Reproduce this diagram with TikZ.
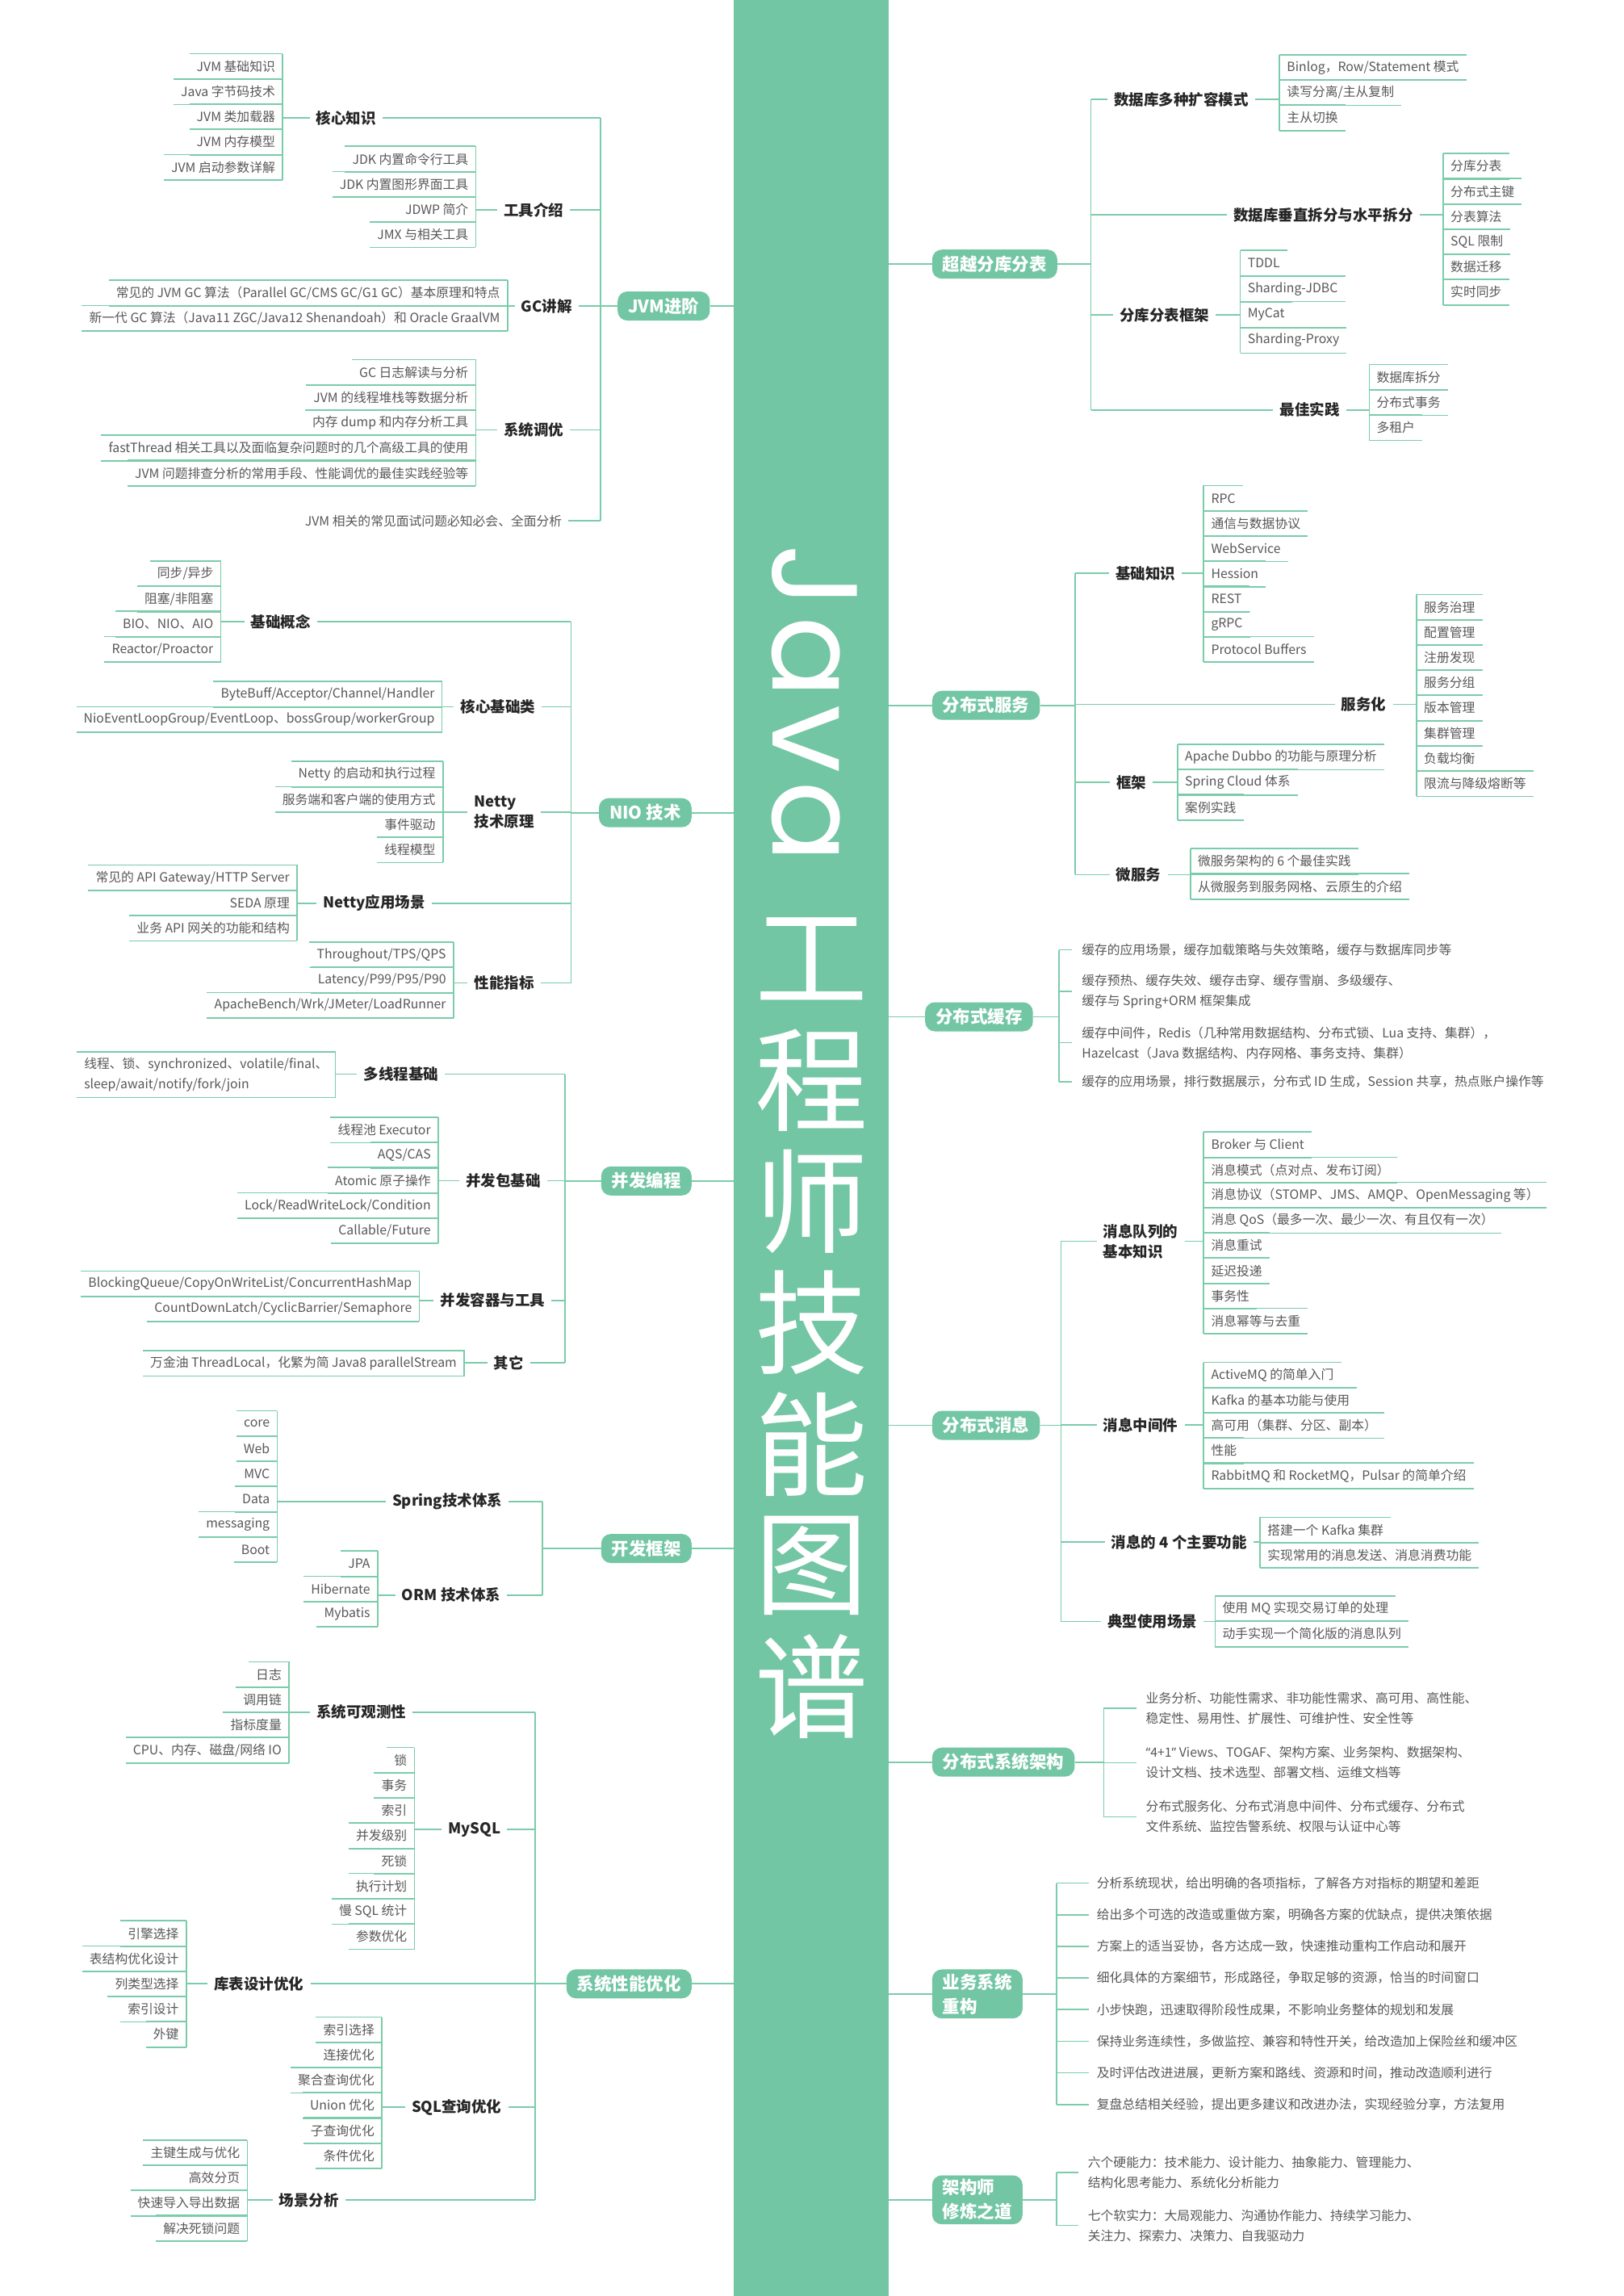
\documentclass[tikz,border=0pt]{standalone}
\usepackage{fontspec}
\setmainfont{Noto Sans CJK SC}
\newfontfamily\latinfont{Poppins}
\newfontfamily\quotefont{Noto Sans}
\usetikzlibrary{positioning}
\definecolor{mint}{RGB}{114,198,164}
\definecolor{mintline}{RGB}{122,204,170}
\definecolor{leafgray}{RGB}{88,88,88}
\definecolor{headgray}{RGB}{38,38,38}
\newcommand{\leafsize}{\fontsize{15.8}{25}\selectfont}
\newcommand{\headsize}{\fontsize{18.5}{25}\selectfont\bfseries}
\newcommand{\topicsize}{\fontsize{21.5}{30}\selectfont\bfseries}

\begin{document}
\begin{tikzpicture}[
    x=1.8136pt, y=-1.8136pt,
    link/.style={draw=mintline, line width=1.7pt},
    leafline/.style={draw=mintline, line width=1.7pt},
    topic/.style={fill=mint, rounded corners=12pt, text=white, font=\topicsize, inner xsep=13pt, inner ysep=0pt, minimum height=36pt, align=left},
    head/.style={font=\headsize, text=headgray, inner xsep=8pt, inner ysep=2pt, align=left},
    leafL/.style={font=\leafsize, text=leafgray, inner xsep=9pt, inner ysep=0pt, minimum height=31.2pt, anchor=north east},
    leafR/.style={leafL, anchor=north west},
    itemtext/.style={font=\leafsize, text=leafgray, inner xsep=12pt, inner ysep=0pt, anchor=west, align=left},
    titlechar/.style={font=\fontsize{140}{140}\selectfont, text=white, inner sep=0pt}
]
\useasboundingbox (0,0) rectangle (1109,1568);
\fill[white] (0,0) rectangle (1109,1568);

% central bar and title
\node[fill=mint, minimum width=192.2pt, minimum height=2844pt, inner sep=0pt] (bar) at (554,784) {};
\node[rotate=-90, anchor=base west, text=white, inner sep=0pt, font=\latinfont\fontsize{150}{150}\selectfont\addfontfeature{LetterSpace=6}] (ttljava) at (528,372) {Java};
\foreach \c [count=\i] in {工,程,师,技,能,图,谱}
    \node[titlechar] (ttl-\i) at (554.5,{655+82.8*(\i-1)}) {\c};

% ---------------- left side ----------------
% JVM进阶
\node[topic, anchor=east] (jvm) at (485,209) {JVM进阶};
\coordinate (jvmspine) at (410,209);
\draw[link] (jvm.east) -- (jvm.east -| bar.west);
\draw[link] (jvmspine) -- (jvm.west);
\node[head] (jvmA) at (236.5,80.5) {核心知识};
\node[head] (jvmB) at (364.5,143.5) {工具介绍};
\node[head] (jvmC) at (373.5,209) {GC讲解};
\node[head] (jvmD) at (364.5,293.5) {系统调优};
\node[leafL, anchor=east, inner xsep=8pt] (jvmE) at (388.4,355.7) {JVM 相关的常见面试问题必知必会、全面分析};
\foreach \n in {jvmA,jvmB,jvmC,jvmD,jvmE}
    \draw[link] (\n.east) -- (\n.east -| jvmspine);
\draw[link] (jvmA.east -| jvmspine) -- (jvmE.east -| jvmspine);

\foreach \lbl [count=\i] in {JVM 基础知识, Java 字节码技术, JVM 类加载器, JVM 内存模型, JVM 启动参数详解}{
    \node[leafL] (jvmA-\i) at (193,{36.7+17.2*(\i-1)}) {\lbl};
    \draw[leafline] (jvmA-\i.north west) -- (jvmA-\i.north east) (jvmA-\i.south west) -- (jvmA-\i.south east);
}
\draw[leafline] (jvmA-1.north east) -- (jvmA-5.south east);
\draw[link] (jvmA-1.east |- jvmA.west) -- (jvmA.west);

\foreach \lbl [count=\i] in {JDK 内置命令行工具, JDK 内置图形界面工具, JDWP 简介, JMX 与相关工具}{
    \node[leafL] (jvmB-\i) at (325,{99.9+17.2*(\i-1)}) {\lbl};
    \draw[leafline] (jvmB-\i.north west) -- (jvmB-\i.north east) (jvmB-\i.south west) -- (jvmB-\i.south east);
}
\draw[leafline] (jvmB-1.north east) -- (jvmB-4.south east);
\draw[link] (jvmB-1.east |- jvmB.west) -- (jvmB.west);

\foreach \lbl [count=\i] in {常见的 JVM GC 算法（Parallel GC/CMS GC/G1 GC）基本原理和特点, 新一代 GC 算法（Java11 ZGC/Java12 Shenandoah）和 Oracle GraalVM}{
    \node[leafL] (jvmC-\i) at (346.6,{191.5+17.2*(\i-1)}) {\lbl};
    \draw[leafline] (jvmC-\i.north west) -- (jvmC-\i.north east) (jvmC-\i.south west) -- (jvmC-\i.south east);
}
\draw[leafline] (jvmC-1.north east) -- (jvmC-2.south east);
\draw[link] (jvmC-1.east |- jvmC.west) -- (jvmC.west);

\foreach \lbl [count=\i] in {GC 日志解读与分析, JVM 的线程堆栈等数据分析, 内存 dump 和内存分析工具, fastThread 相关工具以及面临复杂问题时的几个高级工具的使用, JVM 问题排查分析的常用手段、性能调优的最佳实践经验等}{
    \node[leafL] (jvmD-\i) at (325,{245.6+17.2*(\i-1)}) {\lbl};
    \draw[leafline] (jvmD-\i.north west) -- (jvmD-\i.north east) (jvmD-\i.south west) -- (jvmD-\i.south east);
}
\draw[leafline] (jvmD-1.north east) -- (jvmD-5.south east);
\draw[link] (jvmD-1.east |- jvmD.west) -- (jvmD.west);

% NIO 技术
\node[topic, anchor=east] (nio) at (472.5,555) {NIO 技术};
\coordinate (niospine) at (390,555);
\draw[link] (nio.east) -- (nio.east -| bar.west);
\draw[link] (niospine) -- (nio.west);
\node[head] (nioA) at (191.8,424.5) {基础概念};
\node[head] (nioB) at (340.1,482.7) {核心基础类};
\node[head] (nioC) at (344.4,554.7) {Netty\\技术原理};
\node[head] (nioD) at (255.5,616.8) {Netty应用场景};
\node[head] (nioE) at (344.4,671.3) {性能指标};
\foreach \n in {nioA,nioB,nioC,nioD,nioE}
    \draw[link] (\n.east) -- (\n.east -| niospine);
\draw[link] (nioA.east -| niospine) -- (nioE.east -| niospine);

\foreach \lbl [count=\i] in {同步/异步, 阻塞/非阻塞, BIO、NIO、AIO, Reactor/Proactor}{
    \node[leafL] (nioA-\i) at (150.8,{383.1+17.2*(\i-1)}) {\lbl};
    \draw[leafline] (nioA-\i.north west) -- (nioA-\i.north east) (nioA-\i.south west) -- (nioA-\i.south east);
}
\draw[leafline] (nioA-1.north east) -- (nioA-4.south east);
\draw[link] (nioA-1.east |- nioA.west) -- (nioA.west);

\foreach \lbl [count=\i] in {ByteBuff/Acceptor/Channel/Handler, NioEventLoopGroup/EventLoop、bossGroup/workerGroup}{
    \node[leafL] (nioB-\i) at (301.9,{465.5+17.2*(\i-1)}) {\lbl};
    \draw[leafline] (nioB-\i.north west) -- (nioB-\i.north east) (nioB-\i.south west) -- (nioB-\i.south east);
}
\draw[leafline] (nioB-1.north east) -- (nioB-2.south east);
\draw[link] (nioB-1.east |- nioB.west) -- (nioB.west);

\foreach \lbl [count=\i] in {Netty 的启动和执行过程, 服务端和客户端的使用方式, 事件驱动, 线程模型}{
    \node[leafL] (nioC-\i) at (302.5,{520+17.2*(\i-1)}) {\lbl};
    \draw[leafline] (nioC-\i.north west) -- (nioC-\i.north east) (nioC-\i.south west) -- (nioC-\i.south east);
}
\draw[leafline] (nioC-1.north east) -- (nioC-4.south east);
\draw[link] (nioC-1.east |- nioC.west) -- (nioC.west);

\foreach \lbl [count=\i] in {常见的 API Gateway/HTTP Server, SEDA 原理, 业务 API 网关的功能和结构}{
    \node[leafL] (nioD-\i) at (202.9,{590.7+17.2*(\i-1)}) {\lbl};
    \draw[leafline] (nioD-\i.north west) -- (nioD-\i.north east) (nioD-\i.south west) -- (nioD-\i.south east);
}
\draw[leafline] (nioD-1.north east) -- (nioD-3.south east);
\draw[link] (nioD-1.east |- nioD.west) -- (nioD.west);

\foreach \lbl [count=\i] in {Throughout/TPS/QPS, Latency/P99/P95/P90, ApacheBench/Wrk/JMeter/LoadRunner}{
    \node[leafL] (nioE-\i) at (309.7,{643.4+17.2*(\i-1)}) {\lbl};
    \draw[leafline] (nioE-\i.north west) -- (nioE-\i.north east) (nioE-\i.south west) -- (nioE-\i.south east);
}
\draw[leafline] (nioE-1.north east) -- (nioE-3.south east);
\draw[link] (nioE-1.east |- nioE.west) -- (nioE.west);

% 并发编程
\node[topic, anchor=east] (conc) at (472.5,806.5) {并发编程};
\coordinate (concspine) at (386,806.5);
\draw[link] (conc.east) -- (conc.east -| bar.west);
\draw[link] (concspine) -- (conc.west);
\node[head] (conA) at (273.9,733.6) {多线程基础};
\node[head] (conB) at (343.8,806.3) {并发包基础};
\node[head] (conC) at (336.5,888) {并发容器与工具};
\node[head] (conD) at (347.5,930.6) {其它};
\foreach \n in {conA,conB,conC,conD}
    \draw[link] (\n.east) -- (\n.east -| concspine);
\draw[link] (conA.east -| concspine) -- (conD.east -| concspine);

\node[leafL, align=left, minimum height=55.9pt] (conA-1) at (229.1,718.5) {线程、锁、synchronized、volatile/final、\\sleep/await/notify/fork/join};
\draw[leafline] (conA-1.north west) -- (conA-1.north east) -- (conA-1.south east) -- (conA-1.south west);
\draw[link] (conA-1.east |- conA.west) -- (conA.west);

\foreach \lbl [count=\i] in {线程池 Executor, AQS/CAS, Atomic 原子操作, Lock/ReadWriteLock/Condition, Callable/Future}{
    \node[leafL] (conB-\i) at (299.3,{763+17.2*(\i-1)}) {\lbl};
    \draw[leafline] (conB-\i.north west) -- (conB-\i.north east) (conB-\i.south west) -- (conB-\i.south east);
}
\draw[leafline] (conB-1.north east) -- (conB-5.south east);
\draw[link] (conB-1.east |- conB.west) -- (conB.west);

\foreach \lbl [count=\i] in {BlockingQueue/CopyOnWriteList/ConcurrentHashMap, CountDownLatch/CyclicBarrier/Semaphore}{
    \node[leafL] (conC-\i) at (286.4,{868+17.2*(\i-1)}) {\lbl};
    \draw[leafline] (conC-\i.north west) -- (conC-\i.north east) (conC-\i.south west) -- (conC-\i.south east);
}
\draw[leafline] (conC-1.north east) -- (conC-2.south east);
\draw[link] (conC-1.east |- conC.west) -- (conC.west);

\node[leafL] (conD-1) at (317,922.3) {万金油 ThreadLocal，化繁为简 Java8 parallelStream};
\draw[leafline] (conD-1.north west) -- (conD-1.north east) -- (conD-1.south east) -- (conD-1.south west);
\draw[link] (conD-1.east |- conD.west) -- (conD.west);

% 开发框架
\node[topic, anchor=east] (frame) at (472.5,1057.5) {开发框架};
\coordinate (framespine) at (370.5,1057.5);
\draw[link] (frame.east) -- (frame.east -| bar.west);
\draw[link] (framespine) -- (frame.west);
\node[head] (fwA) at (305.5,1025.3) {Spring技术体系};
\node[head] (fwB) at (308.2,1089.3) {ORM 技术体系};
\foreach \n in {fwA,fwB}
    \draw[link] (\n.east) -- (\n.east -| framespine);
\draw[link] (fwA.east -| framespine) -- (fwB.east -| framespine);

\foreach \lbl [count=\i] in {core, Web, MVC, Data, messaging, Boot}{
    \node[leafL] (fwA-\i) at (189.3,{963.5+17.2*(\i-1)}) {\lbl};
    \draw[leafline] (fwA-\i.north west) -- (fwA-\i.north east) (fwA-\i.south west) -- (fwA-\i.south east);
}
\draw[leafline] (fwA-1.north east) -- (fwA-6.south east);
\draw[link] (fwA-1.east |- fwA.west) -- (fwA.west);

\foreach \lbl [count=\i] in {JPA, Hibernate, Mybatis}{
    \node[leafL] (fwB-\i) at (257.9,{1059.2+17.2*(\i-1)}) {\lbl};
    \draw[leafline] (fwB-\i.north west) -- (fwB-\i.north east) (fwB-\i.south west) -- (fwB-\i.south east);
}
\draw[leafline] (fwB-1.north east) -- (fwB-3.south east);
\draw[link] (fwB-1.east |- fwB.west) -- (fwB.west);

% 系统性能优化
\node[topic, anchor=east] (perf) at (472.5,1354.8) {系统性能优化};
\coordinate (perfspine) at (365.6,1354.8);
\draw[link] (perf.east) -- (perf.east -| bar.west);
\draw[link] (perfspine) -- (perf.west);
\node[head] (pfA) at (246.8,1169.3) {系统可观测性};
\node[head] (pfB) at (324,1249.4) {MySQL};
\node[head] (pfC) at (176.9,1354.8) {库表设计优化};
\node[head] (pfD) at (311.9,1439.1) {SQL查询优化};
\node[head] (pfE) at (211.1,1502.5) {场景分析};
\foreach \n in {pfA,pfB,pfC,pfD,pfE}
    \draw[link] (\n.east) -- (\n.east -| perfspine);
\draw[link] (pfA.east -| perfspine) -- (pfE.east -| perfspine);

\foreach \lbl [count=\i] in {日志, 调用链, 指标度量, CPU、内存、磁盘/网络 IO}{
    \node[leafL] (pfA-\i) at (197.4,{1134.9+17.2*(\i-1)}) {\lbl};
    \draw[leafline] (pfA-\i.north west) -- (pfA-\i.north east) (pfA-\i.south west) -- (pfA-\i.south east);
}
\draw[leafline] (pfA-1.north east) -- (pfA-4.south east);
\draw[link] (pfA-1.east |- pfA.west) -- (pfA.west);

\foreach \lbl [count=\i] in {锁, 事务, 索引, 并发级别, 死锁, 执行计划, 慢 SQL 统计, 参数优化}{
    \node[leafL] (pfB-\i) at (283.1,{1193.4+17.2*(\i-1)}) {\lbl};
    \draw[leafline] (pfB-\i.north west) -- (pfB-\i.north east) (pfB-\i.south west) -- (pfB-\i.south east);
}
\draw[leafline] (pfB-1.north east) -- (pfB-8.south east);
\draw[link] (pfB-1.east |- pfB.west) -- (pfB.west);

\foreach \lbl [count=\i] in {引擎选择, 表结构优化设计, 列类型选择, 索引设计, 外键}{
    \node[leafL] (pfC-\i) at (127.2,{1311.8+17.2*(\i-1)}) {\lbl};
    \draw[leafline] (pfC-\i.north west) -- (pfC-\i.north east) (pfC-\i.south west) -- (pfC-\i.south east);
}
\draw[leafline] (pfC-1.north east) -- (pfC-5.south east);
\draw[link] (pfC-1.east |- pfC.west) -- (pfC.west);

\foreach \lbl [count=\i] in {索引选择, 连接优化, 聚合查询优化, Union 优化, 子查询优化, 条件优化}{
    \node[leafL] (pfD-\i) at (260.8,{1377.5+17.2*(\i-1)}) {\lbl};
    \draw[leafline] (pfD-\i.north west) -- (pfD-\i.north east) (pfD-\i.south west) -- (pfD-\i.south east);
}
\draw[leafline] (pfD-1.north east) -- (pfD-6.south east);
\draw[link] (pfD-1.east |- pfD.west) -- (pfD.west);

\foreach \lbl [count=\i] in {主键生成与优化, 高效分页, 快速导入导出数据, 解决死锁问题}{
    \node[leafL] (pfE-\i) at (168.9,{1461.4+17.2*(\i-1)}) {\lbl};
    \draw[leafline] (pfE-\i.north west) -- (pfE-\i.north east) (pfE-\i.south west) -- (pfE-\i.south east);
}
\draw[leafline] (pfE-1.north east) -- (pfE-4.south east);
\draw[link] (pfE-1.east |- pfE.west) -- (pfE.west);

% ---------------- right side ----------------
% 超越分库分表
\node[topic, anchor=west] (shard) at (636.6,180.4) {超越分库分表};
\coordinate (shardspine) at (745.2,180.4);
\draw[link] (bar.east |- shard.west) -- (shard.west);
\draw[link] (shard.east) -- (shardspine);
\node[head] (dbA) at (806.9,68) {数据库多种扩容模式};
\node[head] (dbB) at (903.9,146.7) {数据库垂直拆分与水平拆分};
\node[head] (dbC) at (795.3,215) {分库分表框架};
\node[head] (dbD) at (894.6,279.9) {最佳实践};
\foreach \n in {dbA,dbB,dbC,dbD}
    \draw[link] (\n.west -| shardspine) -- (\n.west);
\draw[link] (dbA.west -| shardspine) -- (dbD.west -| shardspine);

\foreach \lbl [count=\i] in {Binlog，Row/Statement 模式, 读写分离/主从复制, 主从切换}{
    \node[leafR] (dbA-\i) at (874,{37.3+17.2*(\i-1)}) {\lbl};
    \draw[leafline] (dbA-\i.north west) -- (dbA-\i.north east) (dbA-\i.south west) -- (dbA-\i.south east);
}
\draw[leafline] (dbA-1.north west) -- (dbA-3.south west);
\draw[link] (dbA.east) -- (dbA.east -| dbA-1.west);

\foreach \lbl [count=\i] in {分库分表, 分布式主键, 分表算法, SQL 限制, 数据迁移, 实时同步}{
    \node[leafR] (dbB-\i) at (985.8,{104.8+17.2*(\i-1)}) {\lbl};
    \draw[leafline] (dbB-\i.north west) -- (dbB-\i.north east) (dbB-\i.south west) -- (dbB-\i.south east);
}
\draw[leafline] (dbB-1.north west) -- (dbB-6.south west);
\draw[link] (dbB.east) -- (dbB.east -| dbB-1.west);

\foreach \lbl [count=\i] in {TDDL, Sharding-JDBC, MyCat, Sharding-Proxy}{
    \node[leafR] (dbC-\i) at (847.2,{170.9+17.6*(\i-1)}) {\lbl};
    \draw[leafline] (dbC-\i.north west) -- (dbC-\i.north east) (dbC-\i.south west) -- (dbC-\i.south east);
}
\draw[leafline] (dbC-1.north west) -- (dbC-4.south west);
\draw[link] (dbC.east) -- (dbC.east -| dbC-1.west);

\foreach \lbl [count=\i] in {数据库拆分, 分布式事务, 多租户}{
    \node[leafR] (dbD-\i) at (935.3,{249+17.2*(\i-1)}) {\lbl};
    \draw[leafline] (dbD-\i.north west) -- (dbD-\i.north east) (dbD-\i.south west) -- (dbD-\i.south east);
}
\draw[leafline] (dbD-1.north west) -- (dbD-3.south west);
\draw[link] (dbD.east) -- (dbD.east -| dbD-1.west);

% 分布式服务
\node[topic, anchor=west] (serv) at (636.6,481.7) {分布式服务};
\coordinate (servspine) at (734.5,481.7);
\draw[link] (bar.east |- serv.west) -- (serv.west);
\draw[link] (serv.east) -- (servspine);
\node[head] (svA) at (782.4,391.5) {基础知识};
\node[head] (svB) at (931.5,481.1) {服务化};
\node[head] (svC) at (772.7,534.3) {框架};
\node[head] (svD) at (777.7,597.3) {微服务};
\foreach \n in {svA,svB,svC,svD}
    \draw[link] (\n.west -| servspine) -- (\n.west);
\draw[link] (svA.west -| servspine) -- (svD.west -| servspine);

\foreach \lbl [count=\i] in {RPC, 通信与数据协议, WebService, Hession, REST, gRPC, Protocol Buffers}{
    \node[leafR] (svA-\i) at (822.2,{331.6+17.2*(\i-1)}) {\lbl};
    \draw[leafline] (svA-\i.north west) -- (svA-\i.north east) (svA-\i.south west) -- (svA-\i.south east);
}
\draw[leafline] (svA-1.north west) -- (svA-7.south west);
\draw[link] (svA.east) -- (svA.east -| svA-1.west);

\foreach \lbl [count=\i] in {服务治理, 配置管理, 注册发现, 服务分组, 版本管理, 集群管理, 负载均衡, 限流与降级熔断等}{
    \node[leafR] (svB-\i) at (967.6,{406+17.2*(\i-1)}) {\lbl};
    \draw[leafline] (svB-\i.north west) -- (svB-\i.north east) (svB-\i.south west) -- (svB-\i.south east);
}
\draw[leafline] (svB-1.north west) -- (svB-8.south west);
\draw[link] (svB.east) -- (svB.east -| svB-1.west);

\foreach \lbl [count=\i] in {Apache Dubbo 的功能与原理分析, Spring Cloud 体系, 案例实践}{
    \node[leafR] (svC-\i) at (804.4,{508.3+17.2*(\i-1)}) {\lbl};
    \draw[leafline] (svC-\i.north west) -- (svC-\i.north east) (svC-\i.south west) -- (svC-\i.south east);
}
\draw[leafline] (svC-1.north west) -- (svC-3.south west);
\draw[link] (svC.east) -- (svC.east -| svC-1.west);

\foreach \lbl [count=\i] in {微服务架构的 6 个最佳实践, 从微服务到服务网格、云原生的介绍}{
    \node[leafR] (svD-\i) at (813.1,{579.5+17.2*(\i-1)}) {\lbl};
    \draw[leafline] (svD-\i.north west) -- (svD-\i.north east) (svD-\i.south west) -- (svD-\i.south east);
}
\draw[leafline] (svD-1.north west) -- (svD-2.south west);
\draw[link] (svD.east) -- (svD.east -| svD-1.west);

% 分布式缓存
\node[topic, anchor=west] (cache) at (631.8,694.4) {分布式缓存};
\coordinate (cachebrk) at (723.4,694.4);
\draw[link] (bar.east |- cache.west) -- (cache.west);
\draw[link] (cache.east) -- (cachebrk);
\node[itemtext] (chA) at (732.2,648.7) {缓存的应用场景，缓存加载策略与失效策略，缓存与数据库同步等};
\node[itemtext] (chB) at (732.2,677.2) {缓存预热、缓存失效、缓存击穿、缓存雪崩、多级缓存、\\缓存与 Spring+ORM 框架集成};
\node[itemtext] (chC) at (732.2,712.1) {缓存中间件，Redis（几种常用数据结构、分布式锁、Lua 支持、集群），\\Hazelcast（Java 数据结构、内存网格、事务支持、集群）};
\node[itemtext] (chD) at (732.2,738.6) {缓存的应用场景，排行数据展示，分布式 ID 生成，Session 共享，热点账户操作等};
\foreach \n in {chA,chB,chC,chD}
    \draw[link] (\n.west -| cachebrk) -- (\n.west);
\draw[link] (chA.west -| cachebrk) -- (chD.west -| cachebrk);

% 分布式消息
\node[topic, anchor=west] (msg) at (636.6,973.4) {分布式消息};
\coordinate (msgspine) at (724.7,973.4);
\draw[link] (bar.east |- msg.west) -- (msg.west);
\draw[link] (msg.east) -- (msgspine);
\node[head] (mqA) at (779.1,847.6) {消息队列的\\基本知识};
\node[head] (mqB) at (779.1,973.2) {消息中间件};
\node[head] (mqC) at (805.4,1053.2) {消息的 4 个主要功能};
\node[head] (mqD) at (787.1,1107.4) {典型使用场景};
\foreach \n in {mqA,mqB,mqC,mqD}
    \draw[link] (\n.west -| msgspine) -- (\n.west);
\draw[link] (mqA.west -| msgspine) -- (mqD.west -| msgspine);

\foreach \lbl [count=\i] in {Broker 与 Client, 消息模式（点对点、发布订阅）, 消息协议（STOMP、JMS、AMQP、OpenMessaging 等）, 消息 QoS（最多一次、最少一次、有且仅有一次）, 消息重试, 延迟投递, 事务性, 消息幂等与去重}{
    \node[leafR] (mqA-\i) at (822.2,{773.1+17.2*(\i-1)}) {\lbl};
    \draw[leafline] (mqA-\i.north west) -- (mqA-\i.north east) (mqA-\i.south west) -- (mqA-\i.south east);
}
\draw[leafline] (mqA-1.north west) -- (mqA-8.south west);
\draw[link] (mqA.east) -- (mqA.east -| mqA-1.west);

\foreach \lbl [count=\i] in {ActiveMQ 的简单入门, Kafka 的基本功能与使用, 高可用（集群、分区、副本）, 性能, RabbitMQ 和 RocketMQ，Pulsar 的简单介绍}{
    \node[leafR] (mqB-\i) at (822.2,{930.4+17.2*(\i-1)}) {\lbl};
    \draw[leafline] (mqB-\i.north west) -- (mqB-\i.north east) (mqB-\i.south west) -- (mqB-\i.south east);
}
\draw[leafline] (mqB-1.north west) -- (mqB-5.south west);
\draw[link] (mqB.east) -- (mqB.east -| mqB-1.west);

\foreach \lbl [count=\i] in {搭建一个 Kafka 集群, 实现常用的消息发送、消息消费功能}{
    \node[leafR] (mqC-\i) at (860.7,{1036.2+17.2*(\i-1)}) {\lbl};
    \draw[leafline] (mqC-\i.north west) -- (mqC-\i.north east) (mqC-\i.south west) -- (mqC-\i.south east);
}
\draw[leafline] (mqC-1.north west) -- (mqC-2.south west);
\draw[link] (mqC.east) -- (mqC.east -| mqC-1.west);

\foreach \lbl [count=\i] in {使用 MQ 实现交易订单的处理, 动手实现一个简化版的消息队列}{
    \node[leafR] (mqD-\i) at (830,{1089.9+17.2*(\i-1)}) {\lbl};
    \draw[leafline] (mqD-\i.north west) -- (mqD-\i.north east) (mqD-\i.south west) -- (mqD-\i.south east);
}
\draw[leafline] (mqD-1.north west) -- (mqD-2.south west);
\draw[link] (mqD.east) -- (mqD.east -| mqD-1.west);

% 分布式系统架构
\node[topic, anchor=west] (arch) at (636.6,1203.4) {分布式系统架构};
\coordinate (archbrk) at (753.9,1203.4);
\draw[link] (bar.east |- arch.west) -- (arch.west);
\draw[link] (arch.east) -- (archbrk);
\foreach \lbl [count=\i] in {业务分析、功能性需求、非功能性需求、高可用、高性能、\\稳定性、易用性、扩展性、可维护性、安全性等, {\quotefont “}4+1{\quotefont ”} Views、TOGAF、架构方案、业务架构、数据架构、\\设计文档、技术选型、部署文档、运维文档等, 分布式服务化、分布式消息中间件、分布式缓存、分布式\\文件系统、监控告警系统、权限与认证中心等}{
    \node[itemtext] (ar-\i) at (776,{1166.8+36.95*(\i-1)}) {\lbl};
    \draw[link] (ar-\i.west -| archbrk) -- (ar-\i.west);
}
\draw[link] (ar-1.west -| archbrk) -- (ar-3.west -| archbrk);

% 业务系统重构
\node[topic, anchor=west, inner ysep=5pt] (refac) at (636.6,1361.7) {业务系统\\重构};
\coordinate (refacbrk) at (721.5,1361.7);
\draw[link] (bar.east |- refac.west) -- (refac.west);
\draw[link] (refac.east) -- (refacbrk);
\foreach \lbl [count=\i] in {分析系统现状，给出明确的各项指标，了解各方对指标的期望和差距, 给出多个可选的改造或重做方案，明确各方案的优缺点，提供决策依据, 方案上的适当妥协，各方达成一致，快速推动重构工作启动和展开, 细化具体的方案细节，形成路径，争取足够的资源，恰当的时间窗口, 小步快跑，迅速取得阶段性成果，不影响业务整体的规划和发展, 保持业务连续性，多做监控、兼容和特性开关，给改造加上保险丝和缓冲区, 及时评估改进进展，更新方案和路线、资源和时间，推动改造顺利进行, 复盘总结相关经验，提出更多建议和改进办法，实现经验分享，方法复用}{
    \node[itemtext, inner xsep=10pt] (rf-\i) at (743.5,{1286+21.6*(\i-1)}) {\lbl};
    \draw[link] (rf-\i.west -| refacbrk) -- (rf-\i.west);
}
\draw[link] (rf-1.west -| refacbrk) -- (rf-8.west -| refacbrk);

% 架构师修炼之道
\node[topic, anchor=west, inner ysep=5pt] (way) at (636.6,1502.3) {架构师\\修炼之道};
\coordinate (waybrk) at (721.5,1502.3);
\draw[link] (bar.east |- way.west) -- (way.west);
\draw[link] (way.east) -- (waybrk);
\node[itemtext] (wyA) at (736.4,1483.5) {六个硬能力：技术能力、设计能力、抽象能力、管理能力、\\结构化思考能力、系统化分析能力};
\node[itemtext] (wyB) at (736.4,1519.8) {七个软实力：大局观能力、沟通协作能力、持续学习能力、\\关注力、探索力、决策力、自我驱动力};
\foreach \n in {wyA,wyB}
    \draw[link] (\n.west -| waybrk) -- (\n.west);
\draw[link] (wyA.west -| waybrk) -- (wyB.west -| waybrk);
\end{tikzpicture}
\end{document}
